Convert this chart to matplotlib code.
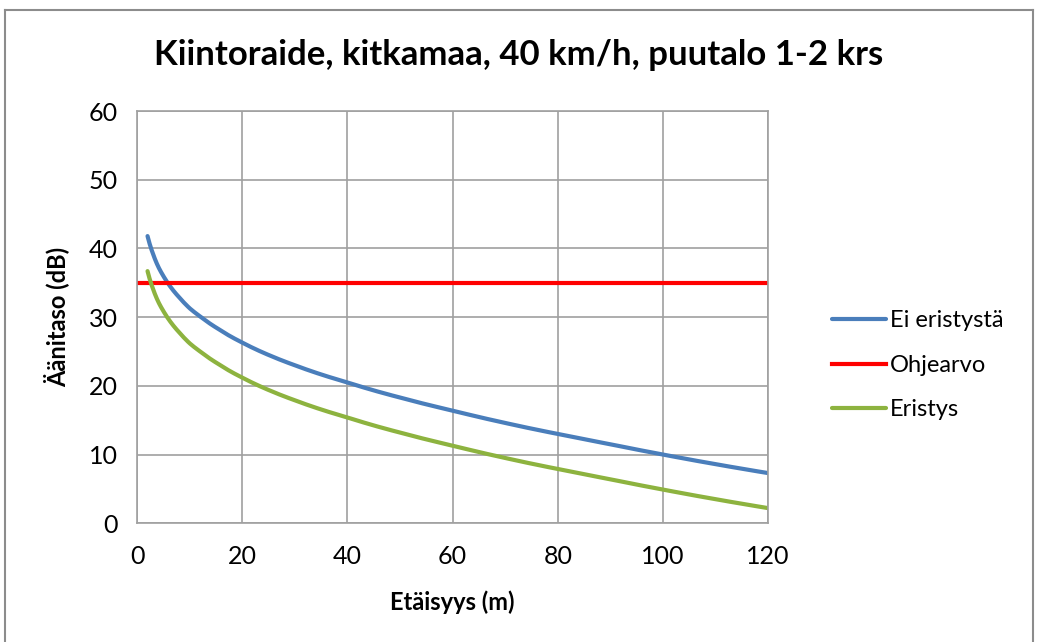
import numpy as np
import matplotlib.pyplot as plt
from matplotlib.lines import Line2D

# distances (m) and sound levels (dB)
distance = [2, 3, 4, 5, 6, 8, 10, 12, 15, 20, 25, 30, 40, 50, 60, 70, 80, 90, 100, 110, 120]
ei_eristysta = [41.8, 39.3, 37.4, 36.0, 34.8, 32.9, 31.3, 30.1, 28.5, 26.3, 24.5, 23.0,
                20.5, 18.3, 16.4, 14.6, 13.0, 11.5, 10.0, 8.6, 7.3]
eristys = [36.7, 34.2, 32.3, 30.9, 29.7, 27.8, 26.2, 25.0, 23.4, 21.2, 19.4, 17.9,
           15.4, 13.2, 11.3, 9.5, 7.9, 6.4, 4.9, 3.5, 2.2]
ohje_x = [0, 120]
ohjearvo = [35, 35]

plt.rcParams['font.family'] = ['Lato', 'DejaVu Sans']

fig = plt.figure(figsize=(10.38, 6.42), dpi=100)
ax = fig.add_axes([0.132, 0.185, 0.608, 0.642])

# draw through the read points, interpolated on log-distance
xs = np.linspace(2, 120, 600)
ax.plot(xs, np.interp(np.log(xs), np.log(distance), ei_eristysta),
        color='#4a7ebb', lw=3, solid_capstyle='round', label='Ei eristystä')
ax.plot(ohje_x, ohjearvo, color='#ff0000', lw=3, label='Ohjearvo')
ax.plot(xs, np.interp(np.log(xs), np.log(distance), eristys),
        color='#8db33f', lw=3, solid_capstyle='round', label='Eristys')

ax.set_xlim(0, 120)
ax.set_ylim(0, 60)
ax.set_xticks(np.arange(0, 121, 20))
ax.set_yticks(np.arange(0, 61, 10))
ax.grid(True, color='#a0a0a0', lw=1.2)
ax.set_axisbelow(True)
for s in ax.spines.values():
    s.set_color('#a0a0a0')
    s.set_linewidth(1.2)
ax.tick_params(length=0, labelsize=18, colors='#000000')
ax.tick_params(axis='x', pad=16)
ax.tick_params(axis='y', pad=14)

ax.set_xlabel('Etäisyys (m)', fontsize=17, fontweight='bold', labelpad=16)
ax.set_ylabel('Äänitaso (dB)', fontsize=17, fontweight='bold', labelpad=14)
fig.text(0.5, 0.915, 'Kiintoraide, kitkamaa, 40 km/h, puutalo 1-2 krs',
         ha='center', va='center', fontsize=25, fontweight='bold')

ax.legend(loc='center left', bbox_to_anchor=(1.082, 0.383), frameon=False,
          fontsize=17, handlelength=2.3, handletextpad=0.15, labelspacing=1.0,
          borderpad=0)

# outer chart border
for xy in [([0.005, 0.005], [0.0, 0.985]), ([0.005, 0.995], [0.985, 0.985]),
           ([0.995, 0.995], [0.985, 0.0])]:
    fig.add_artist(Line2D(xy[0], xy[1], color='#8c8c8c', lw=1.5, transform=fig.transFigure))

fig.savefig('out.png', dpi=100)
plt.close(fig)
